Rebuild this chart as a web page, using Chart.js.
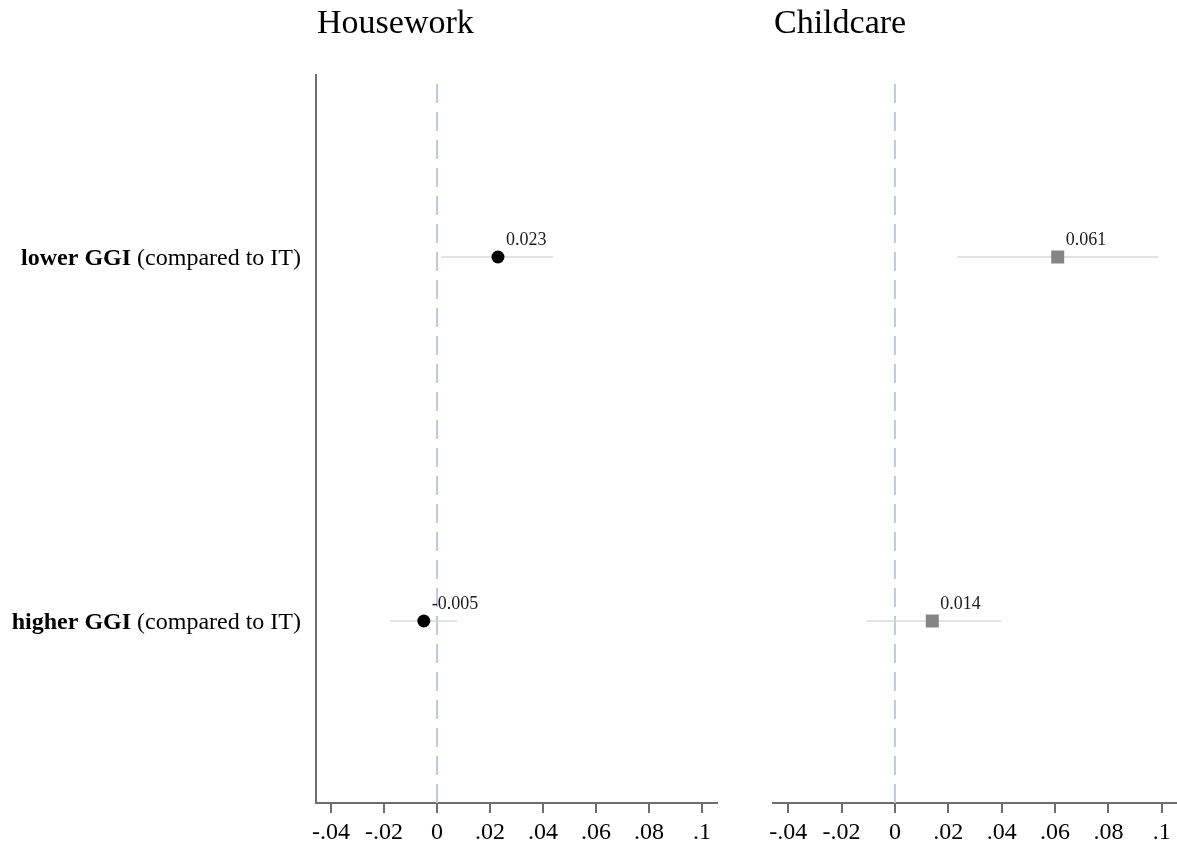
<!DOCTYPE html>
<html>
<head>
<meta charset="utf-8">
<script src="https://cdn.jsdelivr.net/npm/chart.js@4/dist/chart.umd.min.js"></script>
<style>
  html, body { margin: 0; padding: 0; background: #fff; }
  #wrap { position: relative; width: 1177px; height: 847px; overflow: hidden; }
  canvas { position: absolute; top: 0; }
  #cHouse { left: 0; }
  #cChild { left: 730px; }
</style>
</head>
<body>
<div id="wrap">
  <canvas id="cHouse" width="740" height="847"></canvas>
  <canvas id="cChild" width="447" height="847"></canvas>
</div>
<script>
// Row labels: bold group name followed by the reference note
const categories = ['lower GGI', 'higher GGI'];
const categoryNote = ' (compared to IT)';

// Housework: point estimates and confidence bounds
const houseworkEst = [0.023, -0.005];
const houseworkLo = [0.0015, -0.0177];
const houseworkHi = [0.0438, 0.0075];

// Childcare: point estimates and confidence bounds
const childcareEst = [0.061, 0.014];
const childcareLo = [0.0233, -0.0105];
const childcareHi = [0.0987, 0.0398];

// Horizontal axis ticks
const tickValues = [-0.04, -0.02, 0, 0.02, 0.04, 0.06, 0.08, 0.1];
const tickLabels = ['-.04', '-.02', '0', '.02', '.04', '.06', '.08', '.1'];

const SERIF = '"Liberation Serif", "Times New Roman", serif';
const AXIS_GREY = '#6e6e6e';

// Titles, zero reference line, value labels and row labels
const decorPlugin = {
  id: 'decor',
  beforeDatasetsDraw(chart) {
    const { ctx, chartArea } = chart;
    const x0 = chart.scales.x.getPixelForValue(0);
    ctx.save();
    ctx.strokeStyle = '#bccbdc';
    ctx.lineWidth = 2;
    ctx.setLineDash([19, 9]);
    ctx.beginPath();
    ctx.moveTo(x0, chartArea.bottom);
    ctx.lineTo(x0, chartArea.top);
    ctx.stroke();
    ctx.restore();
  },
  afterDraw(chart) {
    const { ctx, chartArea } = chart;
    const opts = chart.options.plugins.decor;
    ctx.save();
    // panel title
    ctx.fillStyle = '#000';
    ctx.font = '34px ' + SERIF;
    ctx.textAlign = 'left';
    ctx.textBaseline = 'alphabetic';
    ctx.fillText(opts.title, chartArea.left + 1, 33);

    // value labels next to each estimate
    const est = chart.data.datasets.find(d => d.isEstimate);
    const meta = chart.getDatasetMeta(chart.data.datasets.indexOf(est));
    ctx.font = '18px ' + SERIF;
    ctx.fillStyle = '#1a1a1a';
    meta.data.forEach((pt, i) => {
      ctx.fillText(est.values[i].toFixed(3), pt.x + 8, pt.y - 12);
    });

    // row labels on the left panel
    if (opts.rowLabels) {
      const yScale = chart.scales.y;
      const right = chartArea.left - 15;
      categories.forEach((cat, i) => {
        const y = yScale.getPixelForValue(i) + 2;
        ctx.textBaseline = 'middle';
        ctx.font = '24px ' + SERIF;
        const noteW = ctx.measureText(categoryNote).width;
        ctx.font = 'bold 24px ' + SERIF;
        const boldW = ctx.measureText(cat).width;
        const start = right - noteW - boldW;
        ctx.fillStyle = '#000';
        ctx.textAlign = 'left';
        ctx.fillText(cat, start, y);
        ctx.font = '24px ' + SERIF;
        ctx.fillText(categoryNote, start + boldW, y);
      });
    }
    ctx.restore();
  }
};

function buildPanel(canvasId, opts) {
  const ciSets = categories.map((cat, i) => ({
    data: [{ x: opts.lo[i], y: cat }, { x: opts.hi[i], y: cat }],
    borderColor: '#d9d9d9',
    borderWidth: 1.5,
    pointRadius: 0,
    pointHoverRadius: 0,
    order: 2
  }));
  const estSet = {
    isEstimate: true,
    values: opts.est,
    data: categories.map((cat, i) => ({ x: opts.est[i], y: cat })),
    showLine: false,
    pointStyle: opts.pointStyle,
    pointRadius: opts.pointRadius,
    pointBackgroundColor: opts.color,
    pointBorderColor: opts.color,
    pointBorderWidth: 0,
    order: 1
  };
  return new Chart(document.getElementById(canvasId), {
    type: 'line',
    data: { labels: categories, datasets: [...ciSets, estSet] },
    options: {
      responsive: false,
      animation: false,
      events: [],
      layout: { autoPadding: false, padding: { top: 75, right: opts.padRight, left: 0, bottom: 0 } },
      plugins: {
        legend: { display: false },
        tooltip: { enabled: false },
        decor: { title: opts.title, rowLabels: opts.rowLabels }
      },
      scales: {
        x: {
          type: 'linear',
          min: -0.0457,
          max: 0.1057,
          afterBuildTicks(scale) {
            scale.ticks = tickValues.map(v => ({ value: v }));
          },
          afterFit(scale) { scale.height = 44; },
          border: { display: true, color: AXIS_GREY, width: 2 },
          grid: {
            drawOnChartArea: false,
            drawTicks: true,
            tickLength: 10,
            color: AXIS_GREY,
            lineWidth: 2
          },
          ticks: {
            autoSkip: false,
            maxRotation: 0,
            padding: 5,
            color: '#000',
            font: { family: SERIF, size: 24 },
            callback(value) {
              const k = tickValues.findIndex(t => Math.abs(t - value) < 1e-9);
              return k >= 0 ? tickLabels[k] : '';
            }
          }
        },
        y: {
          type: 'category',
          offset: true,
          afterFit(scale) { scale.width = opts.yWidth; },
          border: { display: opts.yBorder, color: AXIS_GREY, width: 2 },
          grid: { display: false },
          ticks: { display: false }
        }
      }
    },
    plugins: [decorPlugin]
  });
}

buildPanel('cHouse', {
  title: 'Housework',
  est: houseworkEst, lo: houseworkLo, hi: houseworkHi,
  pointStyle: 'circle', pointRadius: 6.5, color: '#000',
  yWidth: 316, padRight: 23, yBorder: true, rowLabels: true
});

buildPanel('cChild', {
  title: 'Childcare',
  est: childcareEst, lo: childcareLo, hi: childcareHi,
  pointStyle: 'rect', pointRadius: 9.2, color: '#858585',
  yWidth: 43, padRight: 0, yBorder: false, rowLabels: false
});
</script>
</body>
</html>
